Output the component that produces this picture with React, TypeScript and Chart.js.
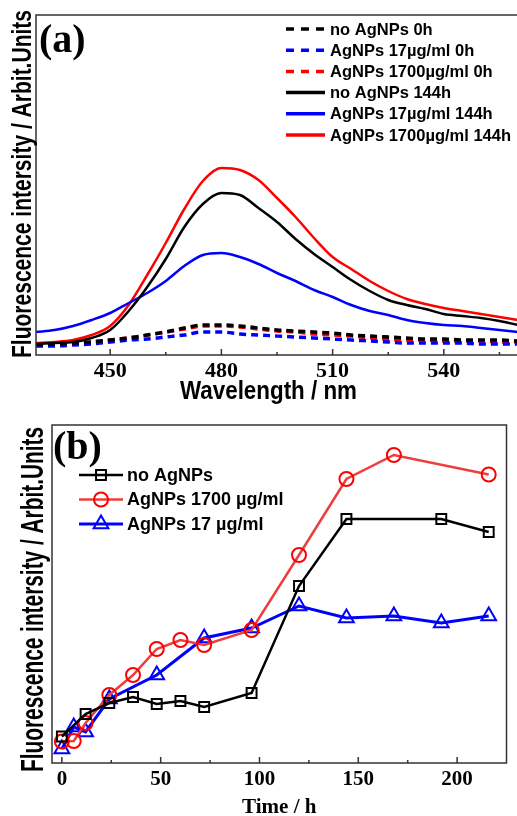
import React, { useEffect, useRef } from 'react';
import { Chart, registerables } from 'chart.js';

Chart.register(...registerables);

// ---------- Panel (a): spectra ----------
const wavelengths = [430, 435, 440, 445, 450, 455, 460, 465, 470, 475, 480, 485, 490, 495, 500, 505, 510, 515, 520, 525, 530, 535, 540, 545, 550, 555, 560];
const noAg0h = [10, 11, 12, 13, 15, 17, 20, 23, 27, 30, 30, 29, 27, 25, 24, 23, 22, 20, 19, 18, 17, 16, 16, 15, 15, 15, 14];
const ag17_0h = [9, 9, 10, 11, 13, 15, 16, 18, 20, 23, 23, 21, 20, 19, 18, 17, 16, 15, 14, 13, 12, 12, 12, 12, 11, 11, 11];
const ag1700_0h = [10, 10, 11, 13, 15, 17, 20, 23, 26, 29, 29, 28, 26, 24, 23, 21, 20, 19, 17, 16, 15, 15, 14, 14, 14, 13, 13];
const noAg144h = [11, 12, 13, 17, 25, 44, 68, 96, 128, 151, 162, 160, 147, 133, 116, 101, 88, 75, 64, 55, 50, 46, 41, 39, 37, 34, 30];
const ag17_144h = [23, 25, 29, 35, 42, 52, 62, 74, 89, 100, 102, 98, 91, 82, 74, 65, 58, 50, 44, 40, 35, 32, 30, 29, 27, 25, 23];
const ag1700_144h = [12, 13, 15, 20, 29, 50, 80, 112, 146, 174, 187, 185, 175, 157, 138, 117, 98, 86, 74, 64, 56, 51, 47, 44, 41, 38, 35];
const wavelengthTicks = [450, 480, 510, 540];
const wavelengthMinor = [465, 495, 525, 555];

const labelsA = [
  'no AgNPs 0h',
  'AgNPs 17µg/ml 0h',
  'AgNPs 1700µg/ml 0h',
  'no AgNPs 144h',
  'AgNPs 17µg/ml 144h',
  'AgNPs 1700µg/ml 144h',
];

// ---------- Panel (b): time course ----------
const timeNoAg = [0, 12, 24, 36, 48, 60, 72, 96, 120, 144, 192, 216];
const valNoAg = [26.5, 49, 60, 66, 59, 62, 56, 70, 177, 244, 244, 231];
const time1700 = [0, 6, 12, 24, 36, 48, 60, 72, 96, 120, 144, 168, 216];
const val1700 = [21.5, 22, 40, 68, 88, 114, 123, 118, 133, 208, 284, 308, 288.5];
const time17 = [0, 6, 12, 24, 48, 72, 96, 120, 144, 168, 192, 216];
const val17 = [14, 36, 31, 64, 88, 125, 135, 157, 145, 147, 140, 147];
const timeTicks = [0, 50, 100, 150, 200];
const timeMinor = [25, 75, 125, 175];

const labelsB = ['no AgNPs', 'AgNPs 1700 µg/ml', 'AgNPs 17 µg/ml'];

const SANS = '"Liberation Sans", Arial, sans-serif';
const SERIF = '"Liberation Serif", "Times New Roman", serif';

function framePlugin(major: number[], minor: number[]) {
  return {
    id: 'frame',
    afterDatasetsDraw(chart: any) {
      const { ctx, chartArea } = chart;
      const { left, right, top, bottom } = chartArea;
      const xs = chart.scales.x;
      ctx.save();
      ctx.strokeStyle = '#333';
      ctx.lineWidth = 1.5;
      ctx.strokeRect(left, top, right - left, bottom - top);
      ctx.beginPath();
      major.forEach((v) => {
        const p = xs.getPixelForValue(v);
        ctx.moveTo(p, bottom);
        ctx.lineTo(p, bottom - 6);
      });
      minor.forEach((v) => {
        const p = xs.getPixelForValue(v);
        ctx.moveTo(p, bottom);
        ctx.lineTo(p, bottom - 3);
      });
      ctx.stroke();
      ctx.restore();
    },
  };
}

// Axis titles drawn from the scale title options, condensed like the original figure
type TitleSpec = { scale: string; cx: number; cy: number; size: number; maxWidth: number; rotate: boolean };
function axisTitles(specs: TitleSpec[]) {
  return {
    id: 'axisTitles',
    afterDraw(chart: any) {
      const ctx = chart.ctx;
      specs.forEach((s) => {
        const t = chart.options.scales[s.scale].title;
        const fam = t.font && t.font.family ? t.font.family : SANS;
        ctx.save();
        ctx.fillStyle = t.color || '#000';
        ctx.font = `bold ${s.size}px ${fam}`;
        ctx.textAlign = 'center';
        ctx.textBaseline = 'middle';
        ctx.translate(s.cx, s.cy);
        if (s.rotate) ctx.rotate(-Math.PI / 2);
        ctx.fillText(t.text, 0, 0, s.maxWidth);
        ctx.restore();
      });
    },
  };
}

function panelLabel(text: string, x: number, y: number) {
  return {
    id: 'panelLabel',
    afterDraw(chart: any) {
      const ctx = chart.ctx;
      ctx.save();
      ctx.fillStyle = '#000';
      ctx.font = `bold 40px ${SERIF}`;
      ctx.textBaseline = 'middle';
      ctx.textAlign = 'left';
      ctx.fillText(text, x, y);
      ctx.restore();
    },
  };
}

const legendA = {
  id: 'legendA',
  afterDraw(chart: any) {
    const ctx = chart.ctx;
    chart.data.datasets.forEach((ds: any, i: number) => {
      const y = 29 + i * 21.2;
      ctx.save();
      ctx.strokeStyle = ds.borderColor;
      ctx.lineWidth = 3.5;
      ctx.setLineDash(ds.borderDash ? [8, 7] : []);
      ctx.beginPath();
      ctx.moveTo(286, y);
      ctx.lineTo(325, y);
      ctx.stroke();
      ctx.setLineDash([]);
      ctx.fillStyle = '#000';
      ctx.font = `bold 16.5px ${SANS}`;
      ctx.textBaseline = 'middle';
      ctx.textAlign = 'left';
      ctx.fillText(ds.label, 330, y + 1);
      ctx.restore();
    });
  },
};

function drawMarker(ctx: CanvasRenderingContext2D, style: string, x: number, y: number, r: number) {
  ctx.beginPath();
  if (style === 'rect') {
    const s = Math.SQRT1_2 * r;
    ctx.rect(x - s, y - s, 2 * s, 2 * s);
  } else if (style === 'triangle') {
    ctx.moveTo(x, y - r);
    ctx.lineTo(x + 0.866 * r, y + 0.5 * r);
    ctx.lineTo(x - 0.866 * r, y + 0.5 * r);
    ctx.closePath();
  } else {
    ctx.arc(x, y, r, 0, Math.PI * 2);
  }
  ctx.stroke();
}

const legendB = {
  id: 'legendB',
  afterDraw(chart: any) {
    const ctx = chart.ctx;
    chart.data.datasets.forEach((ds: any, i: number) => {
      const y = 65 + i * 24.5;
      ctx.save();
      ctx.strokeStyle = ds.borderColor;
      ctx.lineWidth = ds.borderWidth;
      ctx.beginPath();
      ctx.moveTo(79, y);
      ctx.lineTo(123, y);
      ctx.stroke();
      ctx.strokeStyle = ds.pointBorderColor;
      ctx.lineWidth = ds.pointBorderWidth;
      drawMarker(ctx, ds.pointStyle, 101, y, ds.pointRadius);
      ctx.fillStyle = '#000';
      ctx.font = `bold 18px ${SANS}`;
      ctx.textBaseline = 'middle';
      ctx.textAlign = 'left';
      ctx.fillText(ds.label, 127, y + 1);
      ctx.restore();
    });
  },
};

function toXY(xs: number[], ys: number[]) {
  return xs.map((x, i) => ({ x, y: ys[i] }));
}

export default function App() {
  const topRef = useRef<HTMLCanvasElement>(null);
  const botRef = useRef<HTMLCanvasElement>(null);

  useEffect(() => {
    const specSeries = [noAg0h, ag17_0h, ag1700_0h, noAg144h, ag17_144h, ag1700_144h];
    const specColors = ['#000000', '#0000ff', '#ff0000', '#000000', '#0000ff', '#ff0000'];
    const chartA = new Chart(topRef.current as HTMLCanvasElement, {
      type: 'line',
      data: {
        datasets: specSeries.map((s, i) => ({
          label: labelsA[i],
          data: toXY(wavelengths, s),
          borderColor: specColors[i],
          borderWidth: i < 3 ? 3.5 : 2.5,
          borderDash: i < 3 ? [7, 5] : undefined,
          pointRadius: 0,
          tension: 0.4,
          cubicInterpolationMode: 'monotone',
          fill: false,
        })) as any,
      },
      options: {
        responsive: false,
        animation: false,
        layout: { padding: { left: 0, right: 2, top: 15, bottom: 5 } },
        plugins: { legend: { display: false }, tooltip: { enabled: false } },
        scales: {
          x: {
            type: 'linear',
            min: 430,
            max: 560,
            grid: { display: false, drawTicks: false },
            border: { display: false },
            afterBuildTicks: (s: any) => {
              s.ticks = wavelengthTicks.map((v) => ({ value: v }));
            },
            afterFit: (s: any) => {
              s.height = 50;
            },
            ticks: {
              padding: 3,
              color: '#000',
              autoSkip: false,
              maxRotation: 0,
              font: { family: SERIF, size: 22, weight: 'bold' },
            },
            title: {
              display: false,
              text: 'Wavelength / nm',
              color: '#000',
              font: { family: SANS, size: 25, weight: 'bold' },
            },
          },
          y: {
            min: 0,
            max: 340,
            grid: { display: false, drawTicks: false },
            border: { display: false },
            ticks: { display: false },
            afterFit: (s: any) => {
              s.width = 36;
            },
            title: {
              display: false,
              text: 'Fluorescence intersity / Arbit.Units',
              color: '#000',
              font: { family: SANS, size: 28, weight: 'bold' },
            },
          },
        },
      } as any,
      plugins: [
        framePlugin(wavelengthTicks, wavelengthMinor),
        legendA,
        panelLabel('(a)', 39, 42),
        axisTitles([
          { scale: 'y', cx: 23.3, cy: 184, size: 28, maxWidth: 348, rotate: true },
          { scale: 'x', cx: 268.5, cy: 392.5, size: 25, maxWidth: 177, rotate: false },
        ]),
      ],
    });

    const chartB = new Chart(botRef.current as HTMLCanvasElement, {
      type: 'line',
      data: {
        datasets: [
          {
            label: labelsB[0],
            data: toXY(timeNoAg, valNoAg),
            borderColor: '#000000',
            borderWidth: 2.5,
            pointStyle: 'rect',
            pointRadius: 7,
            pointBorderWidth: 2,
            pointBorderColor: '#000000',
            pointBackgroundColor: 'transparent',
          },
          {
            label: labelsB[1],
            data: toXY(time1700, val1700),
            borderColor: '#f03c3c',
            borderWidth: 2.5,
            pointStyle: 'circle',
            pointRadius: 7,
            pointBorderWidth: 2,
            pointBorderColor: '#ff0000',
            pointBackgroundColor: 'transparent',
          },
          {
            label: labelsB[2],
            data: toXY(time17, val17),
            borderColor: '#0000ff',
            borderWidth: 3,
            pointStyle: 'triangle',
            pointRadius: 8.5,
            pointBorderWidth: 2,
            pointBorderColor: '#0000ff',
            pointBackgroundColor: 'transparent',
          },
        ] as any,
      },
      options: {
        responsive: false,
        animation: false,
        layout: { padding: { left: 0, right: 2, top: 15, bottom: 0 } },
        plugins: { legend: { display: false }, tooltip: { enabled: false } },
        scales: {
          x: {
            type: 'linear',
            min: -5,
            max: 225,
            grid: { display: false, drawTicks: false },
            border: { display: false },
            afterBuildTicks: (s: any) => {
              s.ticks = timeTicks.map((v) => ({ value: v }));
            },
            afterFit: (s: any) => {
              s.height = 57;
            },
            ticks: {
              padding: 4.4,
              color: '#000',
              autoSkip: false,
              maxRotation: 0,
              font: { family: SERIF, size: 21, weight: 'bold' },
            },
            title: {
              display: true,
              text: 'Time / h',
              color: '#000',
              font: { family: SERIF, size: 21, weight: 'bold' },
              padding: { top: 0, bottom: 0 },
            },
          },
          y: {
            min: 0,
            max: 338,
            grid: { display: false, drawTicks: false },
            border: { display: false },
            ticks: { display: false },
            afterFit: (s: any) => {
              s.width = 52;
            },
            title: {
              display: false,
              text: 'Fluorescence intersity / Arbit.Units',
              color: '#000',
              font: { family: SANS, size: 32, weight: 'bold' },
            },
          },
        },
      } as any,
      plugins: [
        framePlugin(timeTicks, timeMinor),
        legendB,
        panelLabel('(b)', 53, 39),
        axisTitles([{ scale: 'y', cx: 33.7, cy: 189.5, size: 32, maxWidth: 345, rotate: true }]),
      ],
    });

    return () => {
      chartA.destroy();
      chartB.destroy();
    };
  }, []);

  return (
    <div
      style={{
        position: 'absolute',
        left: 0,
        top: 0,
        width: 517,
        height: 816,
        overflow: 'hidden',
        background: '#ffffff',
      }}
    >
      <div style={{ position: 'absolute', left: 0, top: 0, width: 520, height: 410 }}>
        <canvas ref={topRef} width={520} height={410} style={{ display: 'block' }} />
      </div>
      <div style={{ position: 'absolute', left: 0, top: 410, width: 517, height: 410 }}>
        <canvas ref={botRef} width={517} height={410} style={{ display: 'block' }} />
      </div>
    </div>
  );
}
